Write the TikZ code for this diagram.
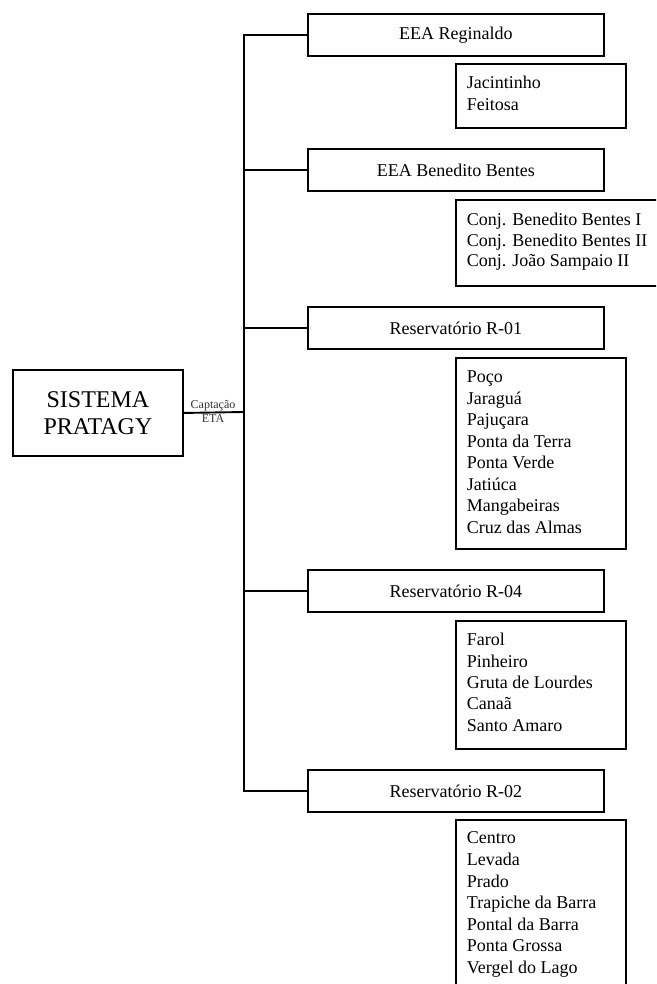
\documentclass[tikz,border=0pt]{standalone}
\usepackage{fontspec}
\setmainfont{Liberation Serif}
\begin{document}
\begin{tikzpicture}[x=1pt,y=-1pt,
  line width=1.9pt,
  titlebox/.style={draw, anchor=north west, minimum width=296pt, minimum height=42pt, inner sep=0pt,
    font=\fontsize{18}{21.5}\selectfont},
  listbox/.style={draw, anchor=north west, inner sep=0pt},
  listtext/.style={anchor=north west, align=left, inner sep=0pt,
    font=\fontsize{18}{21.5}\selectfont},
  mainbox/.style={draw, anchor=north west, minimum width=170pt, minimum height=86pt, inner sep=0pt,
    align=center, font=\fontsize{24}{27}\selectfont},
  link/.style={line width=1.9pt}
]
\useasboundingbox (0,0) rectangle (656,984);
\clip (0,0) rectangle (656,984);
\fill[white] (0,0) rectangle (656,984);

% main box
\node[mainbox] (main) at (12,369) {SISTEMA\\PRATAGY};
\coordinate (t) at (244,412);
\node[align=center, inner sep=0pt, text=black!80, font=\fontsize{12}{13.5}\selectfont] (lab) at (213,411.5) {Captação\\ETA};

% title boxes
\node[titlebox] (r1) at (307,13) {EEA Reginaldo};
\node[titlebox] (r2) at (307,148) {EEA Benedito Bentes};
\node[titlebox] (r3) at (307,306) {Reservatório R-01};
\node[titlebox] (r4) at (307,569) {Reservatório R-04};
\node[titlebox] (r5) at (307,769) {Reservatório R-02};

% list boxes
\node[listbox, minimum width=170pt, minimum height=64pt] (l1) at (455,63) {};
\node[listtext] (t1) at ([shift={(11,9)}]l1.north west) {\rule{0pt}{16pt}Jacintinho\\Feitosa};

\node[listbox, minimum width=230pt, minimum height=86pt] (l2) at (455,199) {};
\node[listtext, font=\fontsize{18}{20.5}\selectfont] (t2) at ([shift={(11,10)}]l2.north west) {\rule{0pt}{16pt}Conj. Benedito Bentes I\\Conj. Benedito Bentes II\\Conj. João Sampaio II};

\node[listbox, minimum width=170pt, minimum height=191pt] (l3) at (455,357) {};
\node[listtext, font=\fontsize{18}{21.45}\selectfont] (t3) at ([shift={(11,9)}]l3.north west) {\rule{0pt}{16pt}Poço\\Jaraguá\\Pajuçara\\Ponta da Terra\\Ponta Verde\\Jatiúca\\Mangabeiras\\Cruz das Almas};

\node[listbox, minimum width=170pt, minimum height=128pt] (l4) at (455,620) {};
\node[listtext, font=\fontsize{18}{21.3}\selectfont] (t4) at ([shift={(11,9)}]l4.north west) {\rule{0pt}{16pt}Farol\\Pinheiro\\Gruta de Lourdes\\Canaã\\Santo Amaro};

\node[listbox, minimum width=170pt, minimum height=220pt] (l5) at (455,819) {};
\node[listtext, font=\fontsize{18}{21.6}\selectfont] (t5) at ([shift={(11,8)}]l5.north west) {\rule{0pt}{16pt}Centro\\Levada\\Prado\\Trapiche da Barra\\Pontal da Barra\\Ponta Grossa\\Vergel do Lago};

% connectors
\draw[link] (main.east) -- (t);
\draw[link] (r1.west) -| (t) |- (r5.west);
\draw[link] (t |- r2.west) -- (r2.west);
\draw[link] (t |- r3.west) -- (r3.west);
\draw[link] (t |- r4.west) -- (r4.west);
\end{tikzpicture}
\end{document}
